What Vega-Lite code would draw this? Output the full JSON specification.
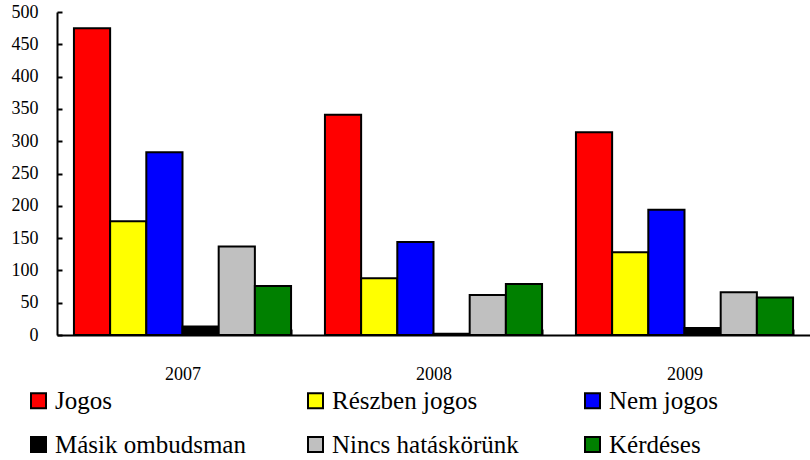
{
  "$schema": "https://vega.github.io/schema/vega-lite/v6.json",
  "autosize": {"type": "none"},
  "width": 753,
  "height": 323,
  "padding": {"left": 57, "top": 12, "right": 0, "bottom": 125},
  "background": "white",
  "config": {
    "view": {"stroke": null},
    "font": "Liberation Serif"
  },
  "data": {
    "values": [
      {"year": "2007", "cat": "Jogos", "value": 475},
      {"year": "2007", "cat": "Részben jogos", "value": 176},
      {"year": "2007", "cat": "Nem jogos", "value": 283},
      {"year": "2007", "cat": "Másik ombudsman", "value": 13},
      {"year": "2007", "cat": "Nincs hatáskörünk", "value": 137},
      {"year": "2007", "cat": "Kérdéses", "value": 76},
      {"year": "2008", "cat": "Jogos", "value": 341},
      {"year": "2008", "cat": "Részben jogos", "value": 88},
      {"year": "2008", "cat": "Nem jogos", "value": 144},
      {"year": "2008", "cat": "Másik ombudsman", "value": 2},
      {"year": "2008", "cat": "Nincs hatáskörünk", "value": 62},
      {"year": "2008", "cat": "Kérdéses", "value": 79},
      {"year": "2009", "cat": "Jogos", "value": 314},
      {"year": "2009", "cat": "Részben jogos", "value": 128},
      {"year": "2009", "cat": "Nem jogos", "value": 194},
      {"year": "2009", "cat": "Másik ombudsman", "value": 11},
      {"year": "2009", "cat": "Nincs hatáskörünk", "value": 66},
      {"year": "2009", "cat": "Kérdéses", "value": 58}
    ]
  },
  "mark": {"type": "bar", "stroke": "black", "strokeWidth": 2, "opacity": 1, "fillOpacity": 1},
  "encoding": {
    "x": {
      "field": "year", "type": "nominal",
      "scale": {"paddingInner": 0.135, "paddingOuter": 0.0675},
      "axis": {
        "title": null, "labelAngle": 0, "labelFontSize": 18, "labelColor": "black", "labelFont": "Liberation Serif",
        "labelPadding": 36, "domainColor": "black", "domainWidth": 2,
        "tickBand": "extent", "tickSize": -6, "tickColor": "black", "tickWidth": 2
      }
    },
    "xOffset": {
      "field": "cat", "type": "nominal",
      "sort": ["Jogos", "Részben jogos", "Nem jogos", "Másik ombudsman", "Nincs hatáskörünk", "Kérdéses"],
      "scale": {"paddingInner": 0, "paddingOuter": 0}
    },
    "y": {
      "field": "value", "type": "quantitative",
      "scale": {"domain": [0, 500], "nice": false},
      "axis": {
        "title": null, "grid": false, "values": [0, 50, 100, 150, 200, 250, 300, 350, 400, 450, 500],
        "labelFontSize": 18, "labelColor": "black", "labelFont": "Liberation Serif", "labelPadding": 24,
        "domainColor": "black", "domainWidth": 2,
        "tickSize": -5, "tickColor": "black", "tickWidth": 2
      }
    },
    "color": {
      "field": "cat", "type": "nominal",
      "sort": ["Jogos", "Részben jogos", "Nem jogos", "Másik ombudsman", "Nincs hatáskörünk", "Kérdéses"],
      "scale": {
        "domain": ["Jogos", "Részben jogos", "Nem jogos", "Másik ombudsman", "Nincs hatáskörünk", "Kérdéses"],
        "range": ["#FF0000", "#FFFF00", "#0000FF", "#000000", "#C0C0C0", "#008000"]
      },
      "legend": {
        "title": null, "orient": "none", "direction": "horizontal", "legendX": -31, "legendY": 376,
        "columns": 3, "gridAlign": "all", "columnPadding": 57, "rowPadding": 18,
        "symbolType": "square", "symbolSize": 225, "symbolStrokeColor": "black", "symbolStrokeWidth": 2,
        "symbolOpacity": 1, "symbolFillOpacity": 1,
        "labelFontSize": 25, "labelColor": "black", "labelFont": "Liberation Serif", "labelLimit": 400, "labelOffset": 4
      }
    }
  }
}
